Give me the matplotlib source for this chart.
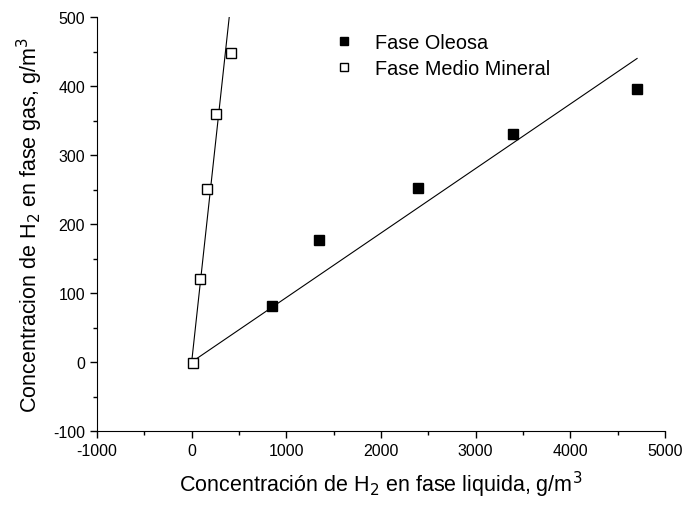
import matplotlib
matplotlib.use('Agg')
import matplotlib.pyplot as plt
import numpy as np
from matplotlib.ticker import MultipleLocator

plt.rcParams['font.family'] = ['Liberation Sans', 'DejaVu Sans']
plt.rcParams['axes.unicode_minus'] = False

# datos
x_oleosa = [850, 1345, 2390, 3395, 4705]
y_oleosa = [81, 177, 252, 330, 396]
x_mineral = [10, 90, 160, 255, 415]
y_mineral = [-2, 120, 251, 360, 448]
# pendientes de los ajustes lineales (por el origen)
pend_oleosa = 0.0935
pend_mineral = 1.26

fig = plt.figure(figsize=(6.86, 5.06), dpi=100)
ax = fig.add_axes([0.1414, 0.1462, 0.828, 0.8182])

xl = np.array([0, max(x_oleosa)])
ax.plot(xl, pend_oleosa * xl, color='black', lw=0.8)
xm = np.array([0, max(x_mineral)])
ax.plot(xm, pend_mineral * xm, color='black', lw=0.8)

ax.plot(x_oleosa, y_oleosa, 's', color='black', ms=7.3, label='Fase Oleosa')
ax.plot(x_mineral, y_mineral, 's', mfc='white', mec='black', mew=1.0, ms=7.3,
        label='Fase Medio Mineral')

ax.set_xlim(-1000, 5000)
ax.set_ylim(-100, 500)
ax.xaxis.set_major_locator(MultipleLocator(1000))
ax.xaxis.set_minor_locator(MultipleLocator(500))
ax.yaxis.set_major_locator(MultipleLocator(100))
ax.yaxis.set_minor_locator(MultipleLocator(50))
ax.spines['top'].set_visible(False)
ax.spines['right'].set_visible(False)
ax.tick_params(which='major', direction='out', length=5, width=1, labelsize=11.5)
ax.tick_params(which='minor', direction='out', length=3, width=1)

ax.set_xlabel('Concentración de H$_2$ en fase liquida, g/m$^3$', fontsize=15.5, labelpad=8)
ax.set_ylabel('Concentracion de H$_2$ en fase gas, g/m$^3$', fontsize=15.5, labelpad=6)

ax.legend(loc='upper left', bbox_to_anchor=(0.368, 1.005), frameon=False, fontsize=14.3,
          handletextpad=0.55, labelspacing=0.38, markerscale=0.8)

plt.savefig('out.png')
